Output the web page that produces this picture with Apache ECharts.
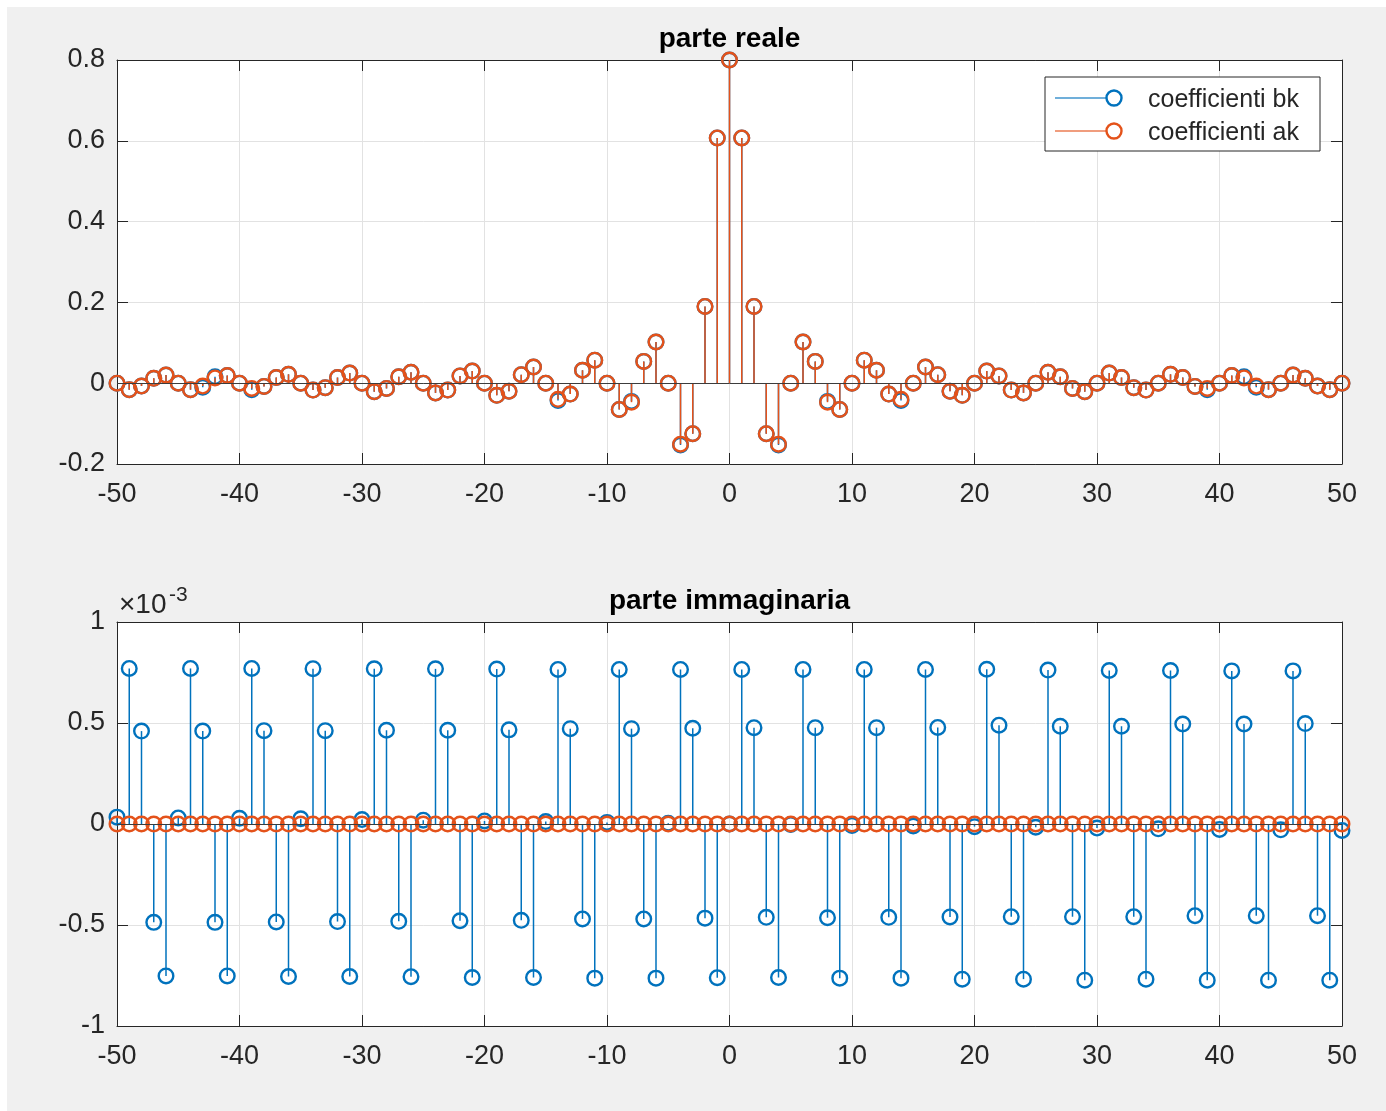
<!DOCTYPE html>
<html>
<head>
<meta charset="utf-8">
<script src="https://cdn.jsdelivr.net/npm/echarts@6/dist/echarts.min.js"></script>
<style>
  html, body { margin: 0; padding: 0; background: #ffffff; }
  #chart { position: absolute; left: 7px; top: 7px; width: 1379px; height: 1104px; }
</style>
</head>
<body>
<div id="chart"></div>
<script>
// indici k dei coefficienti, da -50 a 50
var kIdx = [];
for (var i = -50; i <= 50; i++) {
  kIdx.push(i);
}

// parte reale dei coefficienti
var akReal = [
  0, -0.016, -0.007, 0.012, 0.020, 0, -0.016, -0.007, 0.013, 0.019,
  0, -0.013, -0.008, 0.014, 0.022, 0, -0.017, -0.011, 0.014, 0.025,
  0, -0.021, -0.013, 0.016, 0.027, 0, -0.024, -0.017, 0.018, 0.030,
  0, -0.030, -0.020, 0.021, 0.040, 0, -0.040, -0.027, 0.032, 0.057,
  0, -0.065, -0.047, 0.054, 0.102, 0, -0.151, -0.125, 0.190, 0.607,
  0.800, 0.607, 0.190, -0.125, -0.151, 0, 0.102, 0.054, -0.047, -0.065,
  0, 0.057, 0.032, -0.027, -0.040, 0, 0.040, 0.021, -0.020, -0.030,
  0, 0.030, 0.018, -0.017, -0.024, 0, 0.027, 0.016, -0.013, -0.021,
  0, 0.025, 0.014, -0.011, -0.017, 0, 0.022, 0.014, -0.008, -0.013,
  0, 0.019, 0.013, -0.007, -0.016, 0, 0.020, 0.012, -0.007, -0.016,
  0
];

var bkReal = [
  0, -0.016, -0.007, 0.012, 0.020, 0, -0.016, -0.010, 0.016, 0.019,
  0, -0.016, -0.008, 0.014, 0.022, 0, -0.017, -0.011, 0.014, 0.025,
  0, -0.021, -0.013, 0.016, 0.027, 0, -0.024, -0.017, 0.018, 0.030,
  0, -0.030, -0.020, 0.021, 0.040, 0, -0.043, -0.027, 0.032, 0.057,
  0, -0.065, -0.045, 0.054, 0.102, 0, -0.153, -0.125, 0.190, 0.607,
  0.800, 0.607, 0.190, -0.125, -0.153, 0, 0.102, 0.054, -0.045, -0.065,
  0, 0.057, 0.032, -0.027, -0.043, 0, 0.040, 0.021, -0.020, -0.030,
  0, 0.030, 0.018, -0.017, -0.024, 0, 0.027, 0.016, -0.013, -0.021,
  0, 0.025, 0.014, -0.011, -0.017, 0, 0.022, 0.014, -0.008, -0.016,
  0, 0.019, 0.016, -0.010, -0.016, 0, 0.020, 0.012, -0.007, -0.016,
  0
];

// parte immaginaria (unita' x10^-3)
var bkImag = [
  0.034, 0.770, 0.460, -0.487, -0.752, 0.030, 0.770, 0.460, -0.487, -0.752,
  0.028, 0.770, 0.462, -0.485, -0.755, 0.026, 0.769, 0.462, -0.483, -0.755,
  0.022, 0.768, 0.464, -0.482, -0.756, 0.019, 0.768, 0.464, -0.479, -0.760,
  0.015, 0.767, 0.466, -0.477, -0.760, 0.012, 0.765, 0.472, -0.470, -0.763,
  0.008, 0.765, 0.472, -0.470, -0.763, 0.004, 0.765, 0.474, -0.466, -0.761,
  0.000, 0.765, 0.477, -0.462, -0.760, -0.003, 0.765, 0.477, -0.464, -0.763,
  -0.007, 0.765, 0.477, -0.462, -0.763, -0.010, 0.765, 0.478, -0.460, -0.768,
  -0.013, 0.766, 0.489, -0.459, -0.768, -0.016, 0.762, 0.484, -0.459, -0.773,
  -0.020, 0.760, 0.484, -0.459, -0.768, -0.024, 0.760, 0.495, -0.454, -0.773,
  -0.027, 0.758, 0.495, -0.454, -0.773, -0.029, 0.758, 0.497, -0.454, -0.773,
  -0.032
];

var akImag = [
  0, 0, 0, 0, 0, 0, 0, 0, 0, 0,
  0, 0, 0, 0, 0, 0, 0, 0, 0, 0,
  0, 0, 0, 0, 0, 0, 0, 0, 0, 0,
  0, 0, 0, 0, 0, 0, 0, 0, 0, 0,
  0, 0, 0, 0, 0, 0, 0, 0, 0, 0,
  0, 0, 0, 0, 0, 0, 0, 0, 0, 0,
  0, 0, 0, 0, 0, 0, 0, 0, 0, 0,
  0, 0, 0, 0, 0, 0, 0, 0, 0, 0,
  0, 0, 0, 0, 0, 0, 0, 0, 0, 0,
  0, 0, 0, 0, 0, 0, 0, 0, 0, 0,
  0
];

var xTicks = [-50, 50, 10];
var yTicksTop = [-0.2, 0.8, 0.2];
var yTicksBottom = [-1, 1, 0.5];

var BLUE = '#0072BD';
var ORANGE = '#E4521A';
var AXIS = '#262626';
var FONT = '"Liberation Sans", Arial, Helvetica, sans-serif';

function pairs(xs, ys) {
  var out = [];
  for (var i = 0; i < xs.length; i++) {
    out.push([xs[i], ys[i]]);
  }
  return out;
}

// stem di MATLAB: linea dalla base al valore + cerchio vuoto
function stemRender(color) {
  return function (params, api) {
    var x = api.value(0), y = api.value(1);
    var p0 = api.coord([x, 0]);
    var p1 = api.coord([x, y]);
    return {
      type: 'group',
      children: [
        { type: 'line', shape: { x1: p0[0], y1: p0[1], x2: p1[0], y2: p1[1] },
          style: { stroke: color, lineWidth: 1.5 } },
        { type: 'circle', shape: { cx: p1[0], cy: p1[1], r: 7.3 },
          style: { fill: 'none', stroke: color, lineWidth: 2.4 } }
      ]
    };
  };
}

function xAxisDef(grid, pos) {
  var main = pos === 'bottom';
  return {
    type: 'value', gridIndex: grid, position: pos,
    min: xTicks[0], max: xTicks[1], interval: xTicks[2],
    axisLine: { show: true, onZero: false, lineStyle: { color: AXIS, width: 1 } },
    axisTick: { show: true, inside: true, length: 11, lineStyle: { color: AXIS } },
    axisLabel: { show: main, color: AXIS, fontSize: 27, fontFamily: FONT, margin: 17 },
    splitLine: { show: main, lineStyle: { color: '#e2e2e2', width: 1 } }
  };
}

function yAxisDef(grid, pos, ticks) {
  var main = pos === 'left';
  return {
    type: 'value', gridIndex: grid, position: pos,
    min: ticks[0], max: ticks[1], interval: ticks[2],
    axisLine: { show: true, onZero: false, lineStyle: { color: AXIS, width: 1 } },
    axisTick: { show: true, inside: true, length: 11, lineStyle: { color: AXIS } },
    axisLabel: { show: main, color: AXIS, fontSize: 27, fontFamily: FONT, margin: 12 },
    splitLine: { show: main, lineStyle: { color: '#e2e2e2', width: 1 } }
  };
}

var baseLine = {
  silent: true, symbol: 'none', label: { show: false },
  lineStyle: { color: '#3c3c3c', width: 1, type: 'solid' },
  data: [{ yAxis: 0 }]
};

function stemSeries(name, color, xi, yi, data, withBase) {
  var s = {
    name: name, type: 'custom', xAxisIndex: xi, yAxisIndex: yi,
    renderItem: stemRender(color),
    encode: { x: 0, y: 1 },
    data: data, silent: true, animation: false
  };
  if (withBase) s.markLine = baseLine;
  return s;
}

function legendEntry(y, color, label) {
  return [
    { type: 'line', z: 101, shape: { x1: 1048, y1: y, x2: 1100, y2: y },
      style: { stroke: color, lineWidth: 1.5, opacity: 0.75 } },
    { type: 'circle', z: 102, shape: { cx: 1107, cy: y, r: 7.5 },
      style: { fill: 'none', stroke: color, lineWidth: 2.4 } },
    { type: 'text', z: 102, x: 1141, y: y + 2,
      style: { text: label, fill: AXIS, font: '25px ' + FONT, textVerticalAlign: 'middle' } }
  ];
}

var chart = echarts.init(document.getElementById('chart'));

var graphics = [
  { type: 'text', x: 722.5, y: 32,
    style: { text: 'parte reale', fill: '#000', font: 'bold 28px ' + FONT,
             textAlign: 'center', textVerticalAlign: 'middle' } },
  { type: 'text', x: 722.5, y: 594,
    style: { text: 'parte immaginaria', fill: '#000', font: 'bold 28px ' + FONT,
             textAlign: 'center', textVerticalAlign: 'middle' } },
  { type: 'text', x: 112, y: 598,
    style: { text: '\u00d710', fill: AXIS, font: '28px ' + FONT, textVerticalAlign: 'middle' } },
  { type: 'text', x: 162, y: 578,
    style: { text: '-3', fill: AXIS, font: '21px ' + FONT, textVerticalAlign: 'top' } },
  // legenda
  { type: 'rect', z: 100, shape: { x: 1038, y: 70, width: 275, height: 74 },
    style: { fill: '#ffffff', stroke: AXIS, lineWidth: 1 } }
].concat(legendEntry(91, BLUE, 'coefficienti bk'))
 .concat(legendEntry(124, ORANGE, 'coefficienti ak'));

var option = {
  backgroundColor: '#f0f0f0',
  animation: false,
  grid: [
    { left: 110, top: 53, right: 44, height: 404, show: true, backgroundColor: '#ffffff', borderWidth: 0 },
    { left: 110, top: 615, right: 44, height: 404, show: true, backgroundColor: '#ffffff', borderWidth: 0 }
  ],
  xAxis: [
    xAxisDef(0, 'bottom'), xAxisDef(0, 'top'),
    xAxisDef(1, 'bottom'), xAxisDef(1, 'top')
  ],
  yAxis: [
    yAxisDef(0, 'left', yTicksTop), yAxisDef(0, 'right', yTicksTop),
    yAxisDef(1, 'left', yTicksBottom), yAxisDef(1, 'right', yTicksBottom)
  ],
  series: [
    stemSeries('coefficienti bk', BLUE, 0, 0, pairs(kIdx, bkReal), true),
    stemSeries('coefficienti ak', ORANGE, 0, 0, pairs(kIdx, akReal), false),
    stemSeries('coefficienti bk', BLUE, 2, 2, pairs(kIdx, bkImag), true),
    stemSeries('coefficienti ak', ORANGE, 2, 2, pairs(kIdx, akImag), false)
  ],
  graphic: graphics
};

chart.setOption(option);
</script>
</body>
</html>
